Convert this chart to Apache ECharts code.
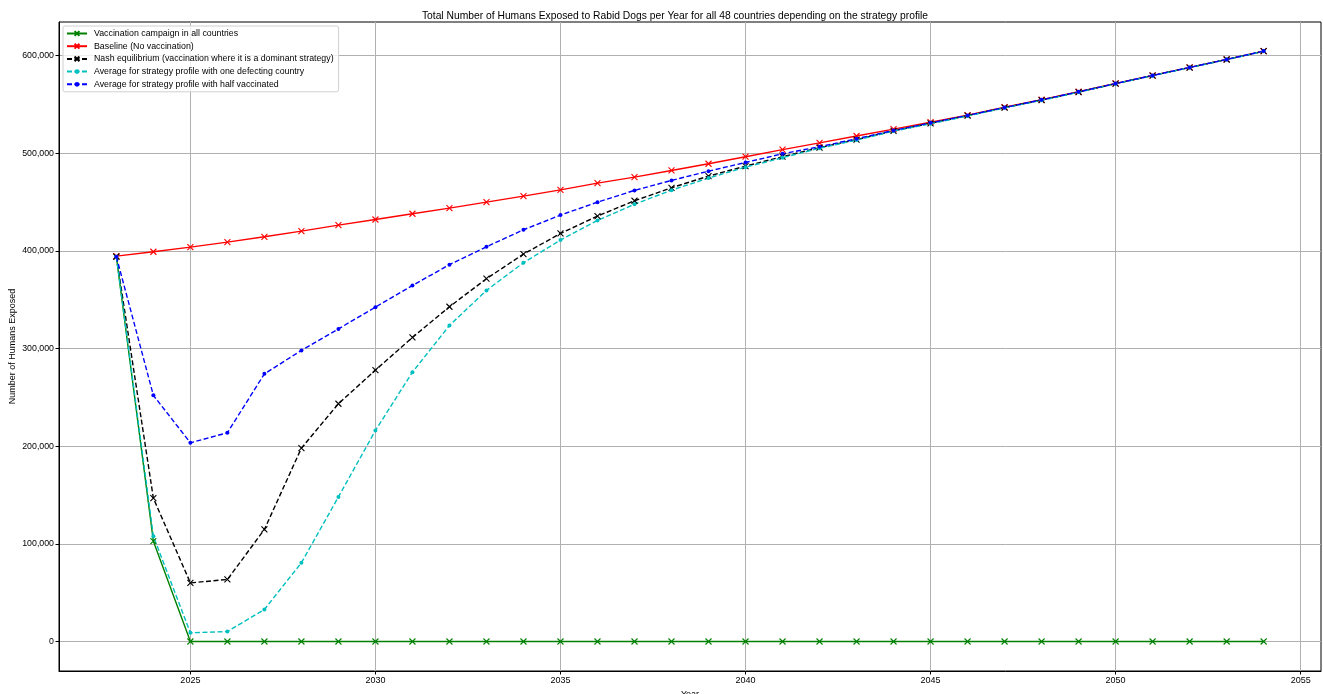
<!DOCTYPE html>
<html lang="en">
<head>
    <meta charset="UTF-8">
    <title>Humans exposed to rabid dogs</title>
</head>
<body style="margin:0;">
<div style="width: 1323px;height: 694px;" id="chart"></div>
</body>
<script src="https://cdn.jsdelivr.net/npm/echarts@6/dist/echarts.min.js"></script>
<script type="text/javascript">
  // years on the x axis
  const years = [];
  for (let y = 2023; y <= 2054; y++) years.push(y);

  const xTicks = [2025, 2030, 2035, 2040, 2045, 2050, 2055];
  const yTicks = [0, 100000, 200000, 300000, 400000, 500000, 600000];

  // values
  const vaccinationAll = [394000, 102700, 0, 0, 0, 0, 0, 0, 0, 0, 0, 0, 0, 0, 0, 0,
    0, 0, 0, 0, 0, 0, 0, 0, 0, 0, 0, 0, 0, 0, 0, 0];
  const baseline = [394500, 399000, 403700, 408800, 414300, 420100, 426300, 432000,
    437900, 443700, 449800, 455900, 462400, 469300, 475400, 482200, 489100, 496300,
    503500, 510500, 517500, 524500, 531700, 538900, 547000, 554600, 562800, 571300,
    579500, 587700, 595900, 604400];
  const nash = [394000, 146700, 60000, 63500, 114700, 198000, 243400, 277800, 311300,
    342700, 371400, 396600, 417700, 435500, 451200, 464500, 476400, 486700, 496300,
    505500, 513800, 522800, 530500, 538300, 546500, 554300, 562500, 571100, 579400,
    587600, 595800, 604300];
  const oneDefecting = [394000, 107800, 8900, 10200, 32800, 80600, 148000, 216000,
    275700, 323500, 359400, 387700, 411000, 431000, 447700, 462000, 474400, 485600,
    495200, 505000, 513300, 522500, 530000, 538000, 546300, 554000, 562300, 571000,
    579300, 587500, 595700, 604200];
  const halfVaccinated = [394000, 252000, 203400, 213700, 274000, 298000, 320000,
    342300, 364500, 385700, 404100, 421500, 436500, 449800, 461800, 472000, 481500,
    490400, 499300, 506500, 514700, 523200, 531000, 538600, 546700, 554500, 562700,
    571200, 579500, 587700, 595900, 604400];

  const FONT = 'Liberation Sans';
  const CROSS = 'path://M0,0L10,10M10,0L0,10';

  function pairs(vals) {
    return vals.map((v, i) => [years[i], v]);
  }

  function makeSeries(name, vals, color, dashed, marker) {
    return {
      name: name,
      type: 'line',
      data: pairs(vals),
      symbol: marker === 'x' ? CROSS : 'circle',
      symbolSize: marker === 'x' ? 6 : 4,
      showSymbol: true,
      lineStyle: {
        color: color,
        width: 1.4,
        type: dashed ? [5, 2.5] : 'solid',
      },
      itemStyle: {
        color: color,
        borderColor: color,
        borderWidth: marker === 'x' ? 1.1 : 0,
      },
      emphasis: {disabled: true},
    };
  }

  const option = {
    animation: false,
    backgroundColor: '#fff',
    title: {
      text: 'Total Number of Humans Exposed to Rabid Dogs per Year for all 48 countries depending on the strategy profile',
      left: 670,
      textAlign: 'center',
      top: 6,
      textStyle: {fontFamily: FONT, fontSize: 10.3, fontWeight: 'normal', color: '#000'},
    },
    legend: {
      orient: 'vertical',
      left: 63,
      top: 26,
      padding: [3, 5, 3, 3],
      itemWidth: 20,
      itemHeight: 6,
      itemGap: 3.7,
      borderColor: '#d0d0d0',
      borderWidth: 1,
      borderRadius: 2,
      backgroundColor: 'rgba(255,255,255,0.8)',
      textStyle: {fontFamily: FONT, fontSize: 8.8, color: '#000', padding: [0, 0, 0, 2]},
    },
    grid: {
      left: 59, right: 2, top: 22, bottom: 23,
      outerBoundsMode: 'none',
      containLabel: false,
      show: true, borderColor: '#000', borderWidth: 1,
    },
    xAxis: {
      type: 'value',
      min: 2021.45,
      max: 2055.55,
      name: 'Year',
      nameLocation: 'middle',
      nameGap: 14,
      nameTextStyle: {fontFamily: FONT, fontSize: 9, color: '#000'},
      axisLine: {onZero: false, lineStyle: {color: '#000', width: 1}},
      axisTick: {show: true, length: 3.5, customValues: xTicks, lineStyle: {color: '#000'}},
      axisLabel: {
        customValues: xTicks,
        fontFamily: FONT, fontSize: 9, color: '#000', margin: 5,
        formatter: v => String(v),
      },
      splitLine: {show: true, lineStyle: {color: '#b0b0b0', width: 1}},
    },
    yAxis: {
      type: 'value',
      min: -30200,
      max: 634200,
      name: 'Number of Humans Exposed',
      nameLocation: 'middle',
      nameGap: 42,
      nameMoveOverlap: false,
      nameTextStyle: {fontFamily: FONT, fontSize: 9, color: '#000'},
      axisLine: {show: true, onZero: false, lineStyle: {color: '#000', width: 1}},
      axisTick: {show: true, length: 3.5, customValues: yTicks, lineStyle: {color: '#000'}},
      axisLabel: {
        customValues: yTicks,
        fontFamily: FONT, fontSize: 8.8, color: '#000', margin: 5,
        formatter: v => v.toLocaleString('en-US'),
      },
      splitLine: {show: true, lineStyle: {color: '#b0b0b0', width: 1}},
    },
    series: [
      makeSeries('Vaccination campaign in all countries', vaccinationAll, '#008000', false, 'x'),
      makeSeries('Baseline (No vaccination)', baseline, '#ff0000', false, 'x'),
      makeSeries('Nash equilibrium (vaccination where it is a dominant strategy)', nash, '#000000', true, 'x'),
      makeSeries('Average for strategy profile with one defecting country', oneDefecting, '#00bfbf', true, 'dot'),
      makeSeries('Average for strategy profile with half vaccinated', halfVaccinated, '#0000ff', true, 'dot'),
    ],
  };

  let instance = echarts.init(document.getElementById('chart'));
  instance.setOption(option);
</script>
</html>
